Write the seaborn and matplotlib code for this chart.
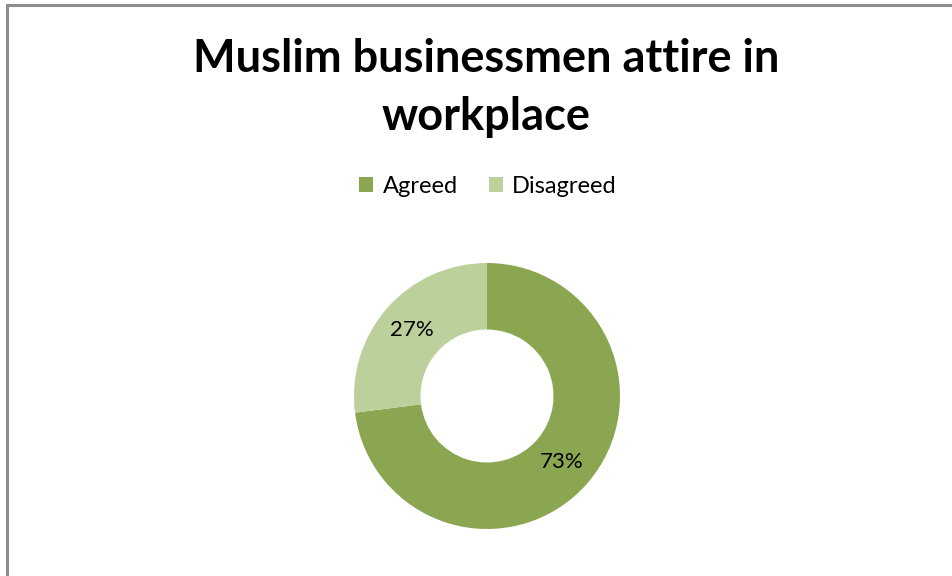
import matplotlib
matplotlib.use("Agg")
import matplotlib.pyplot as plt
from matplotlib.patches import Rectangle, Patch
import seaborn as sns

categories = ["Agreed", "Disagreed"]
shares = [73, 27]
colors = ["#8BA650", "#BCD09B"]
title_text = "Muslim businessmen attire in\nworkplace"

sns.set_theme(style="white")
plt.rcParams["font.family"] = ["Lato", "DejaVu Sans"]
plt.rcParams["text.color"] = "black"

W, H = 953, 576
fig = plt.figure(figsize=(W / 100, H / 100), dpi=100)
fig.patch.set_facecolor("white")

# chart frame (left and top edges visible)
fig.add_artist(Rectangle((6.5 / W, -0.1), 1.2, (H - 4.5) / H + 0.1,
                         transform=fig.transFigure, fill=False,
                         edgecolor="#8c8c8c", linewidth=2.2))

cx, cy, r = 487, 396, 133
ax = fig.add_axes([(cx - r) / W, (H - cy - r) / H, 2 * r / W, 2 * r / H])
wedges, texts, autotexts = ax.pie(
    shares, colors=colors, startangle=90, counterclock=False,
    radius=1.0, wedgeprops=dict(width=0.5, edgecolor="none"),
    autopct=lambda p: f"{p:.0f}%", pctdistance=0.75,
    textprops=dict(fontsize=16, color="black"))
ax.set_xlim(-1, 1)
ax.set_ylim(-1, 1)
ax.set_aspect("equal")
ax.axis("off")

fig.text(486 / W, 1 - 88 / H, title_text, ha="center", va="center",
         fontsize=32.5, fontweight="bold", linespacing=1.5, color="black")

handles = [Patch(facecolor=c, edgecolor="none") for c in colors]
fig.legend(handles, categories, loc="center", bbox_to_anchor=(488 / W, 1 - 186 / H),
           ncol=2, frameon=False, fontsize=17, handlelength=0.6, handleheight=0.6,
           handletextpad=0.4, columnspacing=1.3, labelcolor="black")

fig.savefig("out.png", dpi=100)
